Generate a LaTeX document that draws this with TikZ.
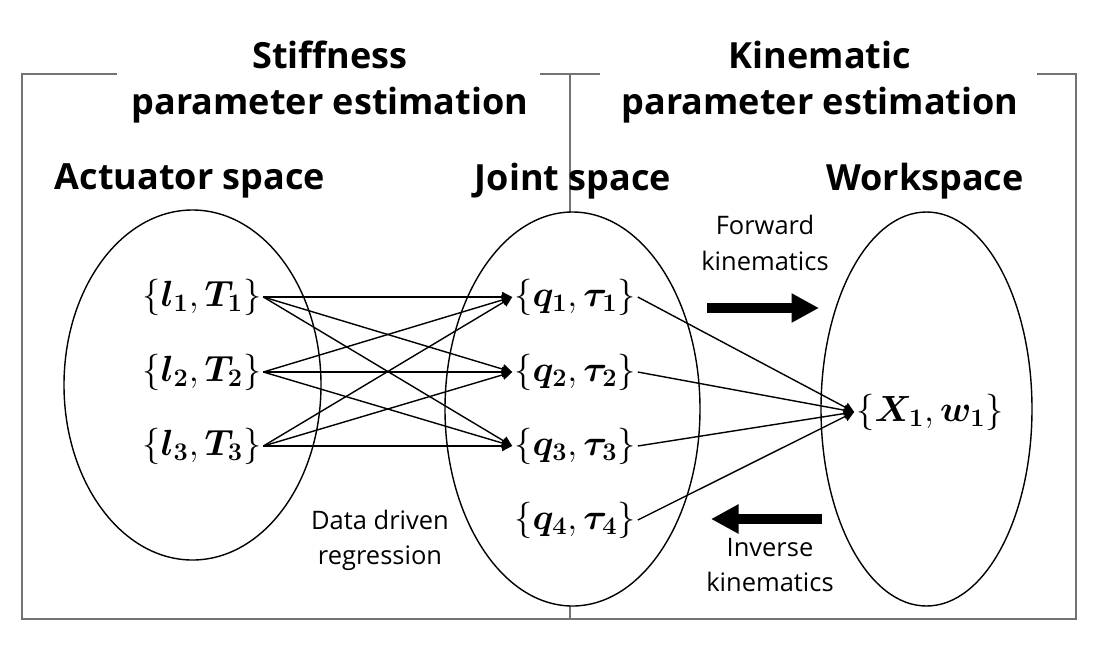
\documentclass[tikz,border=0pt]{standalone}
\usepackage{amsmath,bm}
\usepackage{fontspec}
\setmainfont{Open Sans}
\usetikzlibrary{arrows.meta}
\tikzset{
  heading/.style={font=\fontsize{20.5}{26}\selectfont\bfseries, align=center},
  caption/.style={font=\fontsize{14.5}{20}\selectfont, align=center},
  setlabel/.style={font=\fontsize{22}{26}\selectfont, inner sep=1pt},
  frameline/.style={draw=black!55, line width=0.9pt},
  setline/.style={line width=0.8pt, fill=white},
  mapline/.style={line width=0.8pt, -{Triangle[length=0.2cm,width=0.2cm]}},
  bigarrow/.style={line width=0.2cm, -{Triangle[length=0.55cm,width=0.55cm]}}
}
\begin{document}
\begin{tikzpicture}[x=0.02cm, y=-0.02cm]
\useasboundingbox (0,0) rectangle (1112,653);
% frame
\draw[frameline] (117,74) -- (22,74) -- (22,619) -- (1076,619) -- (1076,74) -- (1037,74);
\draw[frameline] (540,74) -- (600,74);
\draw[frameline] (570,74) -- (570,619);
% titles
\node[heading] (stiff) at (330,82) {Stiffness\\parameter estimation};
\node[heading] (kin) at (820,82) {Kinematic\\parameter estimation};
\node[heading] (act) at (190,181) {Actuator space};
\node[heading] (joint) at (573,181) {Joint space};
\node[heading] (work) at (925,181) {Workspace};
% spaces
\draw[setline] (192.5,385) ellipse [x radius=128.5, y radius=175];
\draw[setline] (572.5,409) ellipse [x radius=127.5, y radius=197];
\draw[setline] (926.5,409) ellipse [x radius=105.5, y radius=197];
% actuator sets
\node[setlabel] (a1) at (202,297) {$\{\bm{l_1},\bm{T_1}\}$};
\node[setlabel] (a2) at (202,372) {$\{\bm{l_2},\bm{T_2}\}$};
\node[setlabel] (a3) at (202,446) {$\{\bm{l_3},\bm{T_3}\}$};
% joint sets
\node[setlabel] (q1) at (575,297) {$\{\bm{q_1},\bm{\tau_1}\}$};
\node[setlabel] (q2) at (575,372) {$\{\bm{q_2},\bm{\tau_2}\}$};
\node[setlabel] (q3) at (575,446) {$\{\bm{q_3},\bm{\tau_3}\}$};
\node[setlabel] (q4) at (575,520) {$\{\bm{q_4},\bm{\tau_4}\}$};
% workspace set
\node[setlabel] (x1) at (930,412) {$\{\bm{X_1},\bm{w_1}\}$};
% regression
\draw[mapline] (a1.east) -- (q1.west);
\draw[mapline] (a1.east) -- (q2.west);
\draw[mapline] (a1.east) -- (q3.west);
\draw[mapline] (a2.east) -- (q1.west);
\draw[mapline] (a2.east) -- (q2.west);
\draw[mapline] (a2.east) -- (q3.west);
\draw[mapline] (a3.east) -- (q1.west);
\draw[mapline] (a3.east) -- (q2.west);
\draw[mapline] (a3.east) -- (q3.west);
% kinematics
\draw[mapline] (q1.east) -- (x1.west);
\draw[mapline] (q2.east) -- (x1.west);
\draw[mapline] (q3.east) -- (x1.west);
\draw[mapline] (q4.east) -- (x1.west);
% captions
\node[caption] (reg) at (380,540) {Data driven\\regression};
\node[caption] (fwd) at (765,243) {Forward\\kinematics};
\node[caption] (inv) at (770,565) {Inverse\\kinematics};
\coordinate (fwdA) at (707,308);
\coordinate (fwdB) at (819,308);
\coordinate (invA) at (822,519);
\coordinate (invB) at (711,519);
\draw[bigarrow] (fwdA) -- (fwdB);
\draw[bigarrow] (invA) -- (invB);
\end{tikzpicture}
\end{document}
